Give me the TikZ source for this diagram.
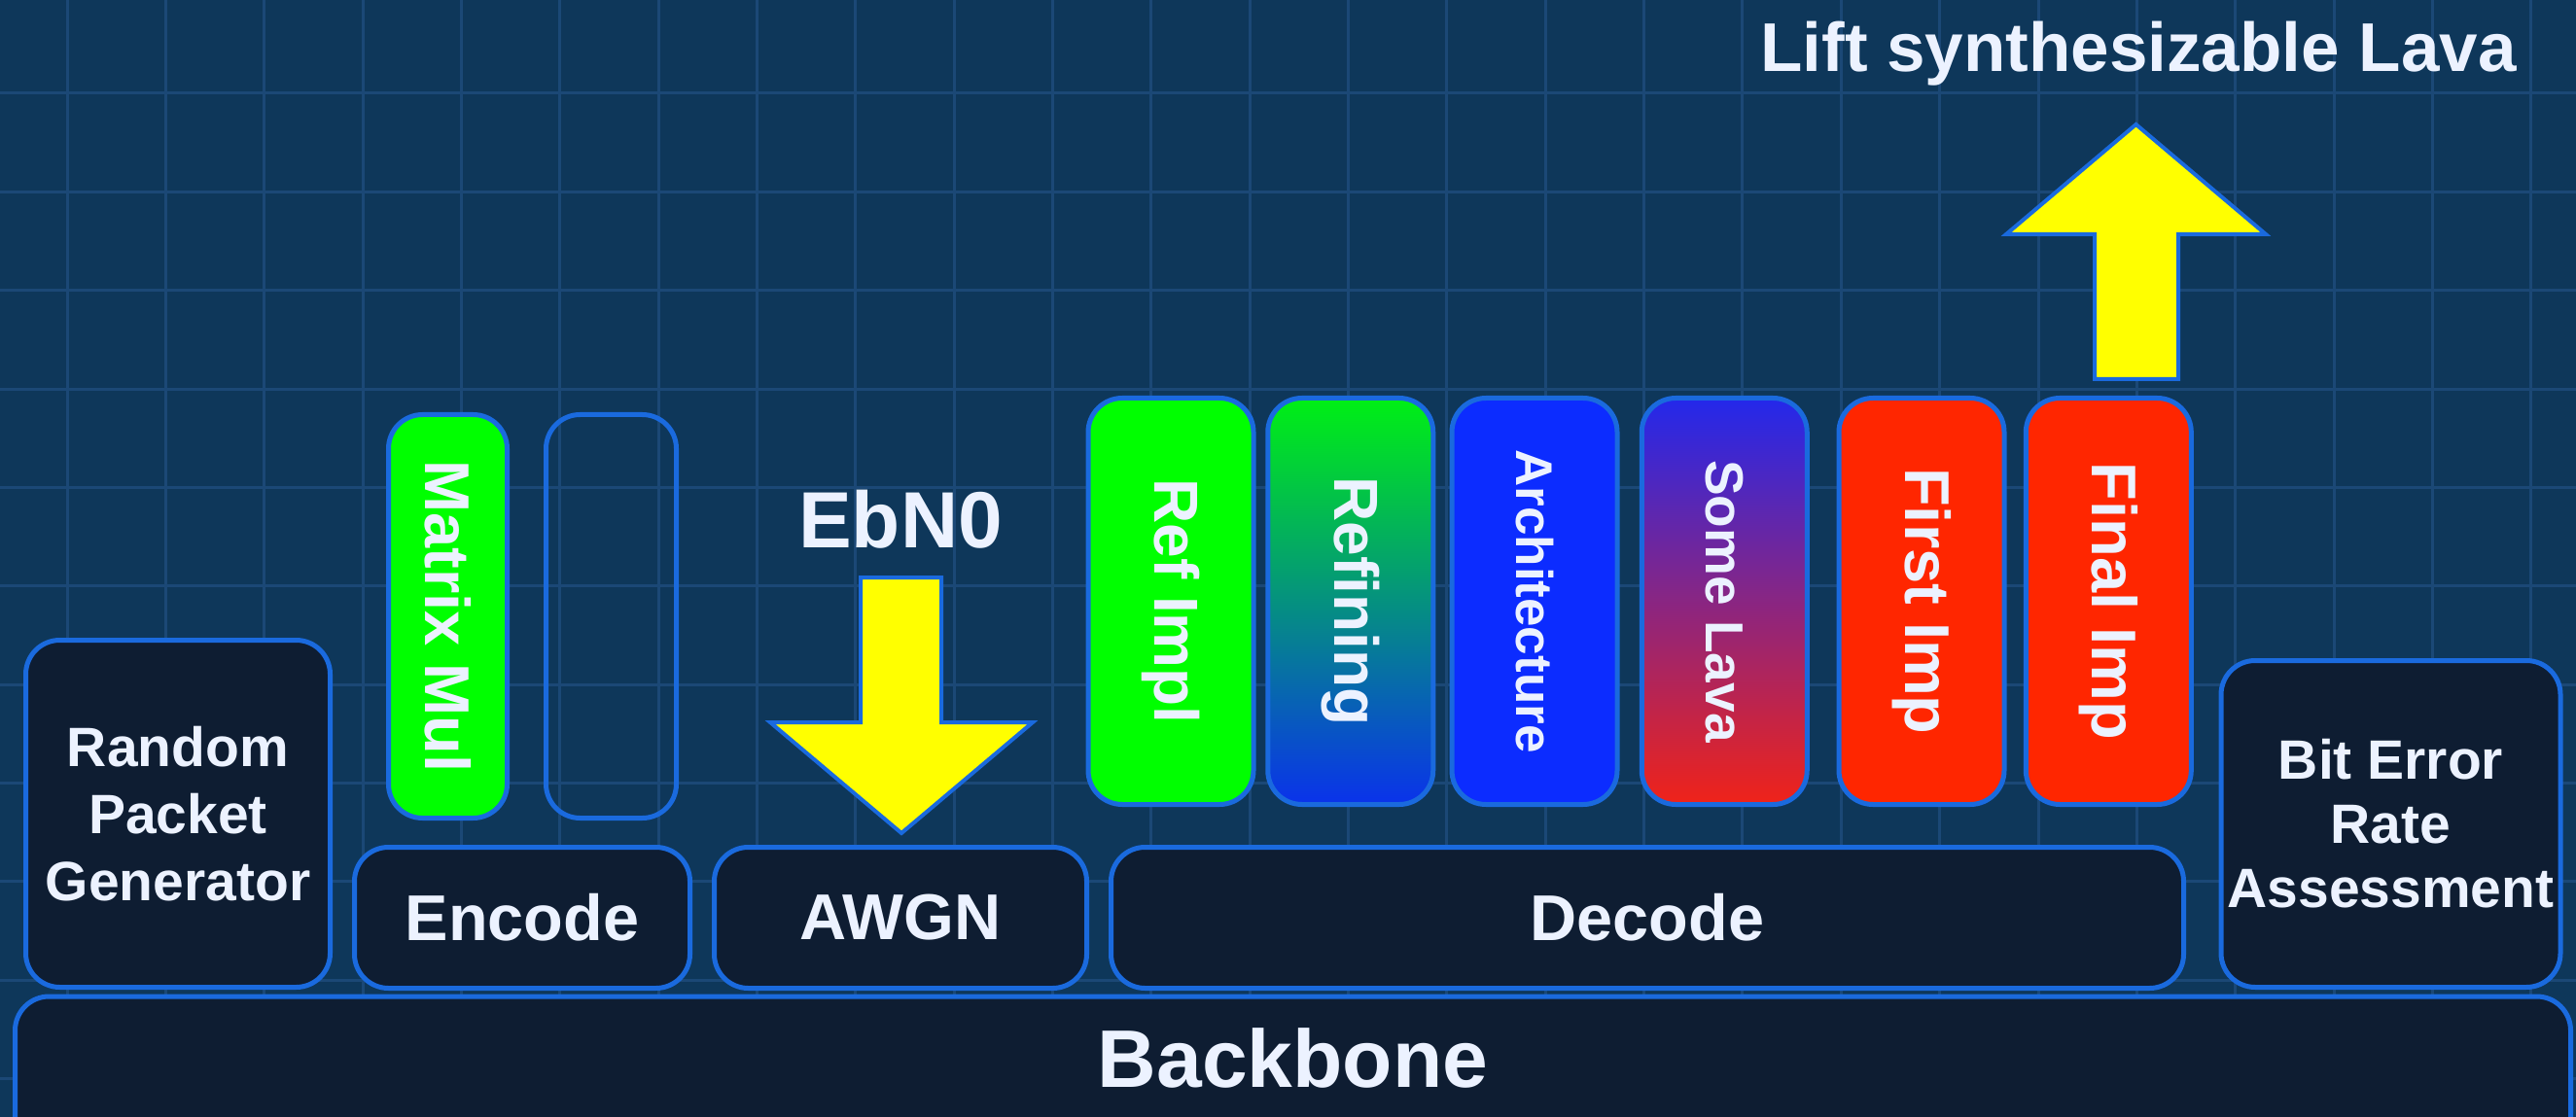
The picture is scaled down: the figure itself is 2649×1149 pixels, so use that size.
\documentclass[tikz,border=0pt]{standalone}
\usepackage{fontspec}
\setmainfont{Liberation Sans}

\definecolor{bg}{RGB}{14,55,90}
\definecolor{gridc}{RGB}{27,72,118}
\definecolor{edge}{RGB}{26,106,222}
\definecolor{panel}{RGB}{14,29,50}
\definecolor{txt}{RGB}{236,242,255}
\definecolor{lime}{RGB}{0,255,0}
\definecolor{royal}{RGB}{12,44,255}
\definecolor{scarlet}{RGB}{255,38,0}
\definecolor{arrowy}{RGB}{255,255,0}
\definecolor{teal}{RGB}{0,140,140}
\definecolor{plum}{RGB}{150,30,150}
\definecolor{topblue}{RGB}{35,40,235}
\definecolor{botblue}{RGB}{10,50,235}
\definecolor{topgreen}{RGB}{0,240,20}
\definecolor{botred}{RGB}{240,35,25}

\newcommand\fsz[2]{\fontsize{#1}{#2}\selectfont}

\begin{document}
\begin{tikzpicture}[x=0.5pt,y=-0.5pt,
  gridline/.style={draw=gridc, line width=1.5pt},
  block/.style={draw=edge, line width=2.5pt, rounded corners=17.5pt,
    fill=panel, text=txt, align=center, inner sep=0pt},
  vbar/.style={block, minimum width=85pt, minimum height=209pt},
  rowbox/.style={block, minimum height=72.5pt, font=\bfseries\fsz{33.3}{40}},
  tallbox/.style={block, font=\bfseries\fsz{28.5}{33}},
  bigarrow/.style={draw=edge, line width=2pt, fill=arrowy, line join=miter},
  caption/.style={text=txt, inner sep=0pt}]

% canvas and backdrop grid
\useasboundingbox (0,0) rectangle (2649,1149);
\clip (0,0) rectangle (2649,1149);
\fill[bg] (0,0) rectangle (2649,1149);
\foreach \k in {0,...,25}
  \draw[gridline] ({69+101.35*\k},0) -- ({69+101.35*\k},1149);
\foreach \k in {-1,...,10}
  \draw[gridline] (0,{96+101.35*\k}) -- (2649,{96+101.35*\k});

% backbone running under everything
\node[block, anchor=north, minimum width=1314pt, text height=46.75pt,
  text depth=43.25pt, font=\bfseries\fsz{42}{42}] (backbone)
  at (1329.5,1022.5) {Backbone};

% tall end blocks
\node[tallbox, minimum width=156.5pt, minimum height=178.5pt] (rpg)
  at (183,837) {Random\\[1.5pt]Packet\\[1.5pt]Generator};
\node[tallbox, minimum width=174.5pt, minimum height=168pt] (ber)
  at (2458.5,847.5) {Bit Error\\Rate\\Assessment};

% stage row
\node[rowbox, minimum width=172.5pt] (encode) at (537,944) {Encode};
\node[rowbox, minimum width=191.5pt] (awgn) at (926,944) {AWGN};
\node[rowbox, minimum width=551.5pt] (decode) at (1694,944) {Decode};

% encoder columns
\node[block, fill=lime, minimum width=61pt, minimum height=207.5pt,
  font=\bfseries\fsz{32.5}{32.5}] (matmul) at (460.5,634)
  {\rotatebox{-90}{Matrix Mul}};
\node[block, fill=none, minimum width=67pt, minimum height=207.5pt] (spare)
  at (628.5,634) {};

% decoder columns
\node[vbar, fill=lime, font=\bfseries\fsz{32}{32}] (refimpl) at (1204,618.5)
  {\rotatebox{-90}{Ref Impl}};
\node[vbar, top color=topgreen, middle color=teal, bottom color=botblue,
  font=\bfseries\fsz{32}{32}] (refining) at (1388.75,618.5)
  {\rotatebox{-90}{Refining}};
\node[vbar, fill=royal, font=\bfseries\fsz{26.5}{26.5}] (arch) at (1578,618.5)
  {\rotatebox{-90}{Architecture}};
\node[vbar, top color=topblue, middle color=plum, bottom color=botred,
  font=\bfseries\fsz{27.5}{27.5}] (somelava) at (1773.25,618.5)
  {\rotatebox{-90}{Some Lava}};
\node[vbar, fill=scarlet, font=\bfseries\fsz{32.5}{32.5}] (firstimp) at (1976,618.5)
  {\rotatebox{-90}{First Imp}};
\node[vbar, fill=scarlet, font=\bfseries\fsz{32.5}{32.5}] (finalimp) at (2168.3,618.5)
  {\rotatebox{-90}{Final Imp}};

% noise level input
\node[caption, anchor=base, font=\bfseries\fsz{41}{41}] (ebn0) at (926,563) {EbN0};
\draw[bigarrow] (885,594) -- (968,594) -- (968,743) -- (1062,743) -- (927,857)
  -- (792,743) -- (885,743) -- cycle;

% lifting the final implementation
\node[caption, anchor=base east, font=\bfseries\fsz{35.5}{35.5}] (lift)
  at (2588,74) {Lift synthesizable Lava};
\draw[bigarrow] (2154,390) -- (2240,390) -- (2240,241) -- (2330,241)
  -- (2196.5,128) -- (2063,241) -- (2154,241) -- cycle;
\end{tikzpicture}
\end{document}
